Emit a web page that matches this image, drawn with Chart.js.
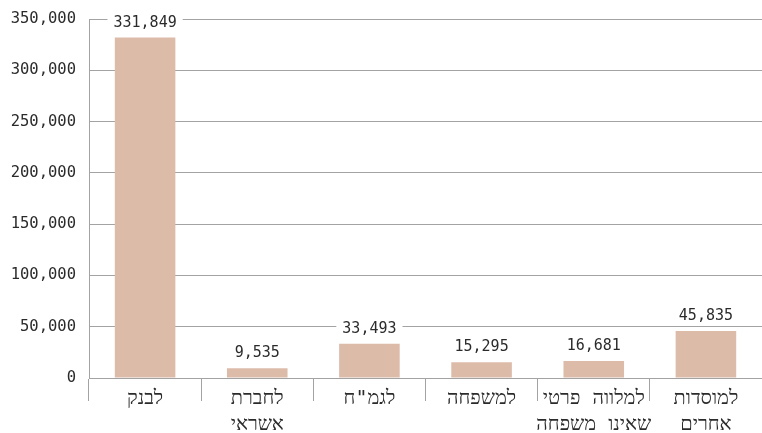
<!DOCTYPE html>
<html>
<head>
<meta charset="utf-8">
<script src="https://cdn.jsdelivr.net/npm/chart.js@4.4.1/dist/chart.umd.min.js"></script>
<style>
  html, body { margin: 0; padding: 0; background: #fff; }
  #wrap { width: 762px; height: 433px; }
</style>
</head>
<body>
<div id="wrap"><canvas id="chart"></canvas></div>
<script>
const categories = [
  ['לבנק'],
  ['לחברת', 'אשראי'],
  ['לגמ"ח'],
  ['למשפחה'],
  ['למלווה פרטי', 'שאינו משפחה'],
  ['למוסדות', 'אחרים']
];
const amounts = [331849, 9535, 33493, 15295, 16681, 45835];
const yTicks = [0, 50000, 100000, 150000, 200000, 250000, 300000, 350000];

const FONT = '"DejaVu Sans Mono", monospace';
const GRID = '#a3a3a3';
const INK = '#2b2b2b';
const fmt = v => v.toLocaleString('en-US');

// value labels sit on a white box so gridlines break around them
const valueLabels = {
  id: 'valueLabels',
  afterDatasetsDraw(chart) {
    const ctx = chart.ctx;
    const meta = chart.getDatasetMeta(0);
    ctx.save();
    ctx.font = '15px ' + FONT;
    ctx.textAlign = 'center';
    ctx.textBaseline = 'middle';
    meta.data.forEach((bar, i) => {
      const txt = fmt(amounts[i]);
      const w = ctx.measureText(txt).width;
      const y = bar.y - 15;
      ctx.fillStyle = '#fff';
      ctx.fillRect(bar.x - w / 2 - 6, y - 9, w + 12, 18);
      ctx.fillStyle = INK;
      ctx.fillText(txt, bar.x, y);
    });
    ctx.restore();
  }
};

new Chart(document.getElementById('chart'), {
  type: 'bar',
  data: {
    labels: categories,
    datasets: [{
      data: amounts,
      backgroundColor: '#dcbba9',
      barPercentage: 0.9,
      categoryPercentage: 0.6
    }]
  },
  options: {
    responsive: true,
    maintainAspectRatio: false,
    animation: false,
    layout: { padding: { top: 19, right: 0, left: 0, bottom: 0 } },
    plugins: {
      legend: { display: false },
      tooltip: { enabled: false }
    },
    scales: {
      x: {
        grid: {
          offset: true,
          drawOnChartArea: false,
          drawTicks: true,
          tickLength: 23,
          color: GRID
        },
        border: { color: GRID },
        ticks: {
          color: INK,
          padding: -15,
          autoSkip: false,
          maxRotation: 0,
          font: { family: FONT, size: 20, lineHeight: 1.3 }
        },
        afterFit: s => { s.height = 55; s.paddingLeft = 0; s.paddingRight = 0; }
      },
      y: {
        min: 0,
        max: 350000,
        afterBuildTicks: s => { s.ticks = yTicks.map(v => ({ value: v })); },
        grid: { drawTicks: false, color: GRID },
        border: { color: GRID },
        ticks: {
          color: INK,
          padding: 13,
          font: { family: FONT, size: 15.5 },
          callback: v => fmt(v)
        },
        afterFit: s => { s.width = 89; s.paddingTop = 0; s.paddingBottom = 0; }
      }
    }
  },
  plugins: [valueLabels]
});
</script>
</body>
</html>
